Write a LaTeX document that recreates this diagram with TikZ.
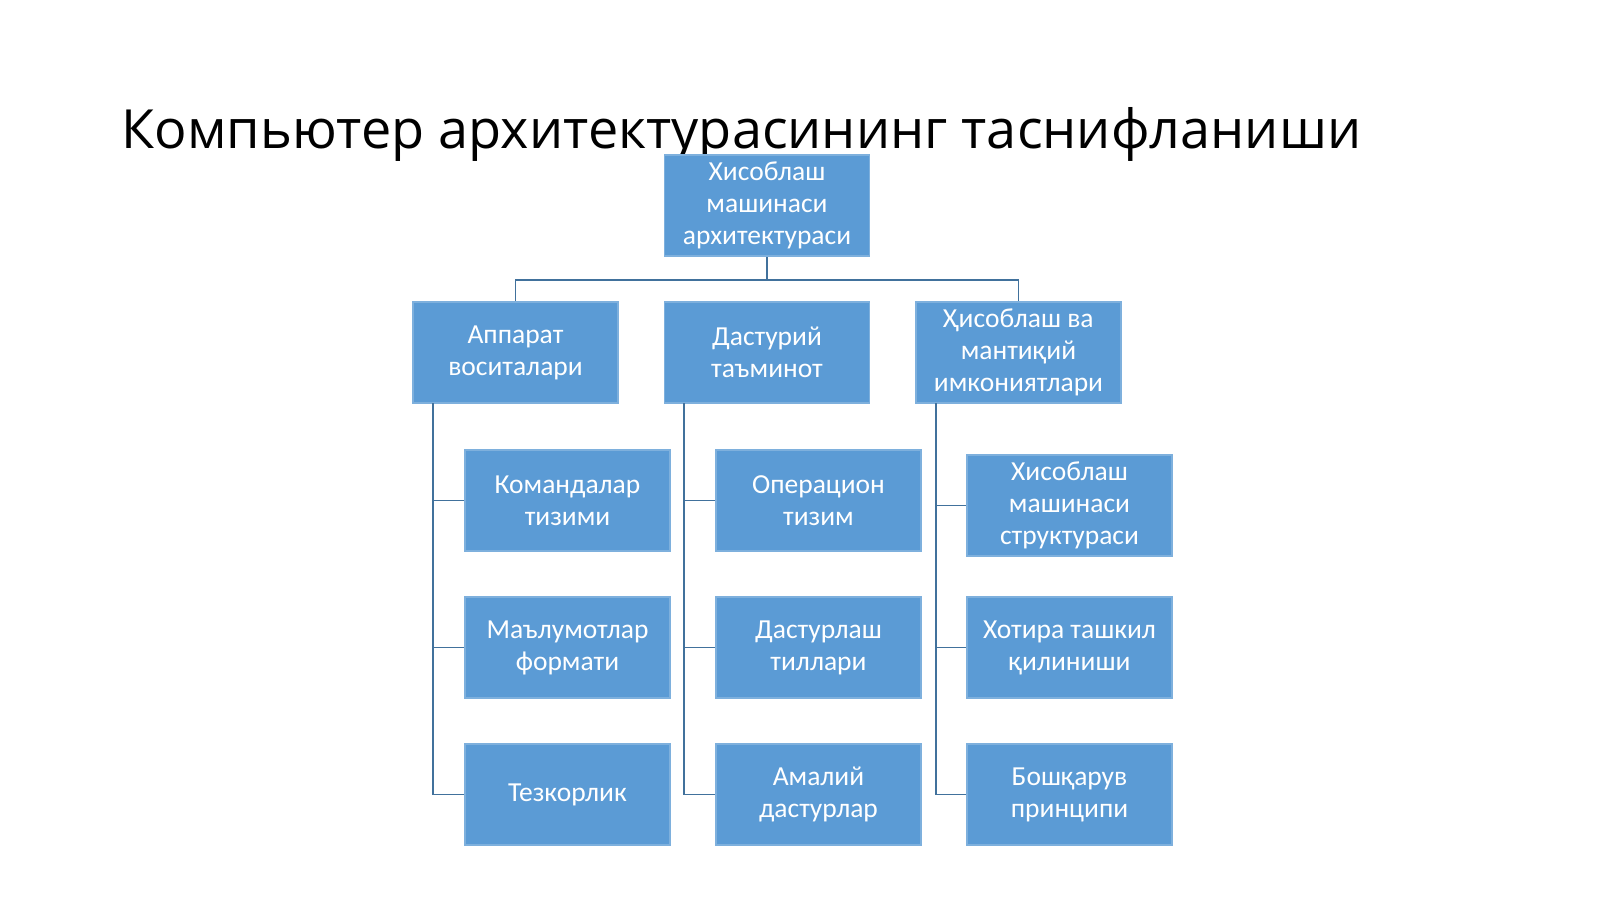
\documentclass[tikz,border=0pt]{standalone}
\usepackage{fontspec}
\setmainfont{Carlito}
\newfontfamily\titlefont{Open Sans}
\usetikzlibrary{positioning}
\definecolor{boxfill}{HTML}{5B9BD5}
\definecolor{boxline}{HTML}{7EB0DD}
\definecolor{linkcol}{HTML}{41719C}

\tikzset{
  blk/.style={draw=boxline, line width=1.2pt, fill=boxfill, text=white,
    minimum width=205pt, minimum height=101pt, inner sep=2pt,
    align=center, font=\fontsize{27.5}{32}\selectfont},
  link/.style={draw=linkcol, line width=1.4pt}
}

\begin{document}
\begin{tikzpicture}
[
  x=1pt, y=-1pt
]
\useasboundingbox (0,0) rectangle (1600,899);

\node[anchor=base west, font=\titlefont\fontsize{54}{60}\selectfont] (title) at (118,148) {Компьютер архитектурасининг таснифланиши};

% connectors first, boxes drawn over them
\coordinate (hub) at (767,280);
\draw[link] (767,256) -- (hub);
\foreach \x in {515.5,1018.5}
  \draw[link] (hub) -| (\x,302);

\node[blk] (root) at (767,205.5) {Хисоблаш\\машинаси\\архитектураси};

\node[blk] (hw) at (515.5,352.5) {Аппарат\\воситалари};
\node[blk] (sw) at (767,352.5) {Дастурий\\таъминот};
\node[blk] (lg) at (1018.5,352.5) {Ҳисоблаш ва\\мантиқий\\имкониятлари};

\node[blk] (hw1) at (567.5,500.5) {Командалар\\тизими};
\node[blk] (hw2) at (567.5,647.5) {Маълумотлар\\формати};
\node[blk] (hw3) at (567.5,794.5) {Тезкорлик};

\node[blk] (sw1) at (818.5,500.5) {Операцион\\тизим};
\node[blk] (sw2) at (818.5,647.5) {Дастурлаш\\тиллари};
\node[blk] (sw3) at (818.5,794.5) {Амалий\\дастурлар};

\node[blk] (lg1) at (1069.5,505.5) {Хисоблаш\\машинаси\\структураси};
\node[blk] (lg2) at (1069.5,647.5) {Хотира ташкил\\қилиниши};
\node[blk] (lg3) at (1069.5,794.5) {Бошқарув\\принципи};

\foreach \b/\x in {hw/433,sw/684,lg/936}{
  \foreach \i in {1,2,3}
    \draw[link] (\x,403) |- (\b\i.west);
}
\end{tikzpicture}
\end{document}
